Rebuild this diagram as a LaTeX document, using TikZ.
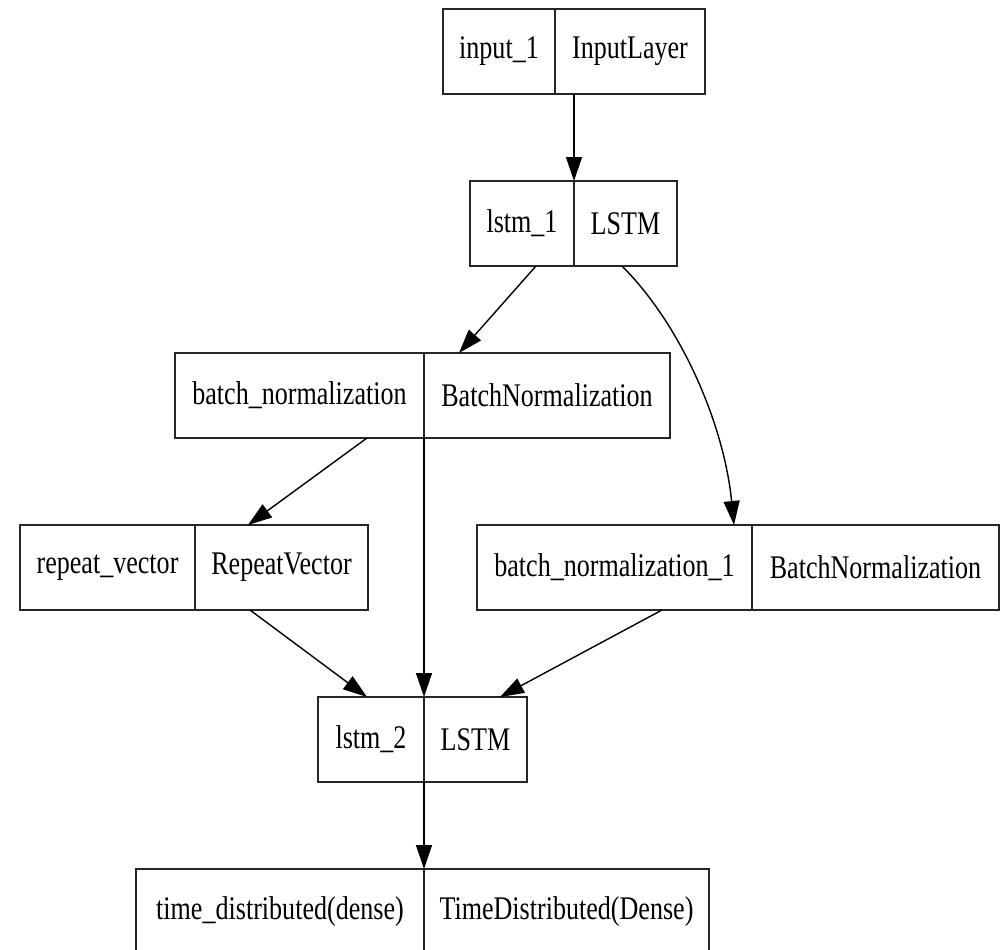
\documentclass[tikz,border=0pt]{standalone}
\usepackage{fontspec}
\setmainfont{Liberation Serif}[FakeStretch=0.79]
\usetikzlibrary{arrows.meta}
\begin{document}
\begin{tikzpicture}[x=1pt,y=-1pt,
  cell/.style={draw=black!85, line width=1.8pt, minimum height=85pt,
    inner sep=0pt, outer sep=0pt, anchor=north west,
    font=\fontsize{33}{40}\selectfont},
  link/.style={line width=1.4pt, -{Triangle[length=24pt,width=16pt]}}]
\useasboundingbox (0,0) rectangle (1007,950);

% layer boxes: name cell | class cell
\node[cell, minimum width=112] (inl) at (443,9) {input\_1};
\node[cell, minimum width=150] (inr) at (555,9) {InputLayer};

\node[cell, minimum width=104] (l1l) at (470,181) {lstm\_1};
\node[cell, minimum width=103] (l1r) at (574,181) {LSTM};

\node[cell, minimum width=249] (bnl) at (175,353) {batch\_normalization};
\node[cell, minimum width=246] (bnr) at (424,353) {BatchNormalization};

\node[cell, minimum width=175] (rvl) at (20,525) {repeat\_vector};
\node[cell, minimum width=173] (rvr) at (195,525) {RepeatVector};

\node[cell, minimum width=275] (b1l) at (477,525) {batch\_normalization\_1};
\node[cell, minimum width=247] (b1r) at (752,525) {BatchNormalization};

\node[cell, minimum width=106] (l2l) at (318,697) {lstm\_2};
\node[cell, minimum width=103] (l2r) at (424,697) {LSTM};

\node[cell, minimum width=288] (tdl) at (136,869) {time\_distributed(dense)};
\node[cell, minimum width=285] (tdr) at (424,869) {TimeDistributed(Dense)};

% connectors
\draw[link] ([xshift=19pt]inr.south west) -- (l1l.north east);
\draw[link] ([xshift=-38pt]l1l.south east) -- ([xshift=35pt]bnr.north west);
\draw[link] ([xshift=48pt]l1r.south west)
  .. controls (682,326) and (724,425) .. ([xshift=-18pt]b1l.north east);
\draw[link] ([xshift=-57pt]bnl.south east) -- ([xshift=53pt]rvr.north west);
\draw[link] (bnl.south east) -- (l2l.north east);
\draw[link] ([xshift=55pt]rvr.south west) -- ([xshift=49pt]l2l.north west);
\draw[link] ([xshift=185pt]b1l.south west) -- ([xshift=-27pt]l2r.north east);
\draw[link] (l2l.south east) -- (tdl.north east);
\end{tikzpicture}
\end{document}
